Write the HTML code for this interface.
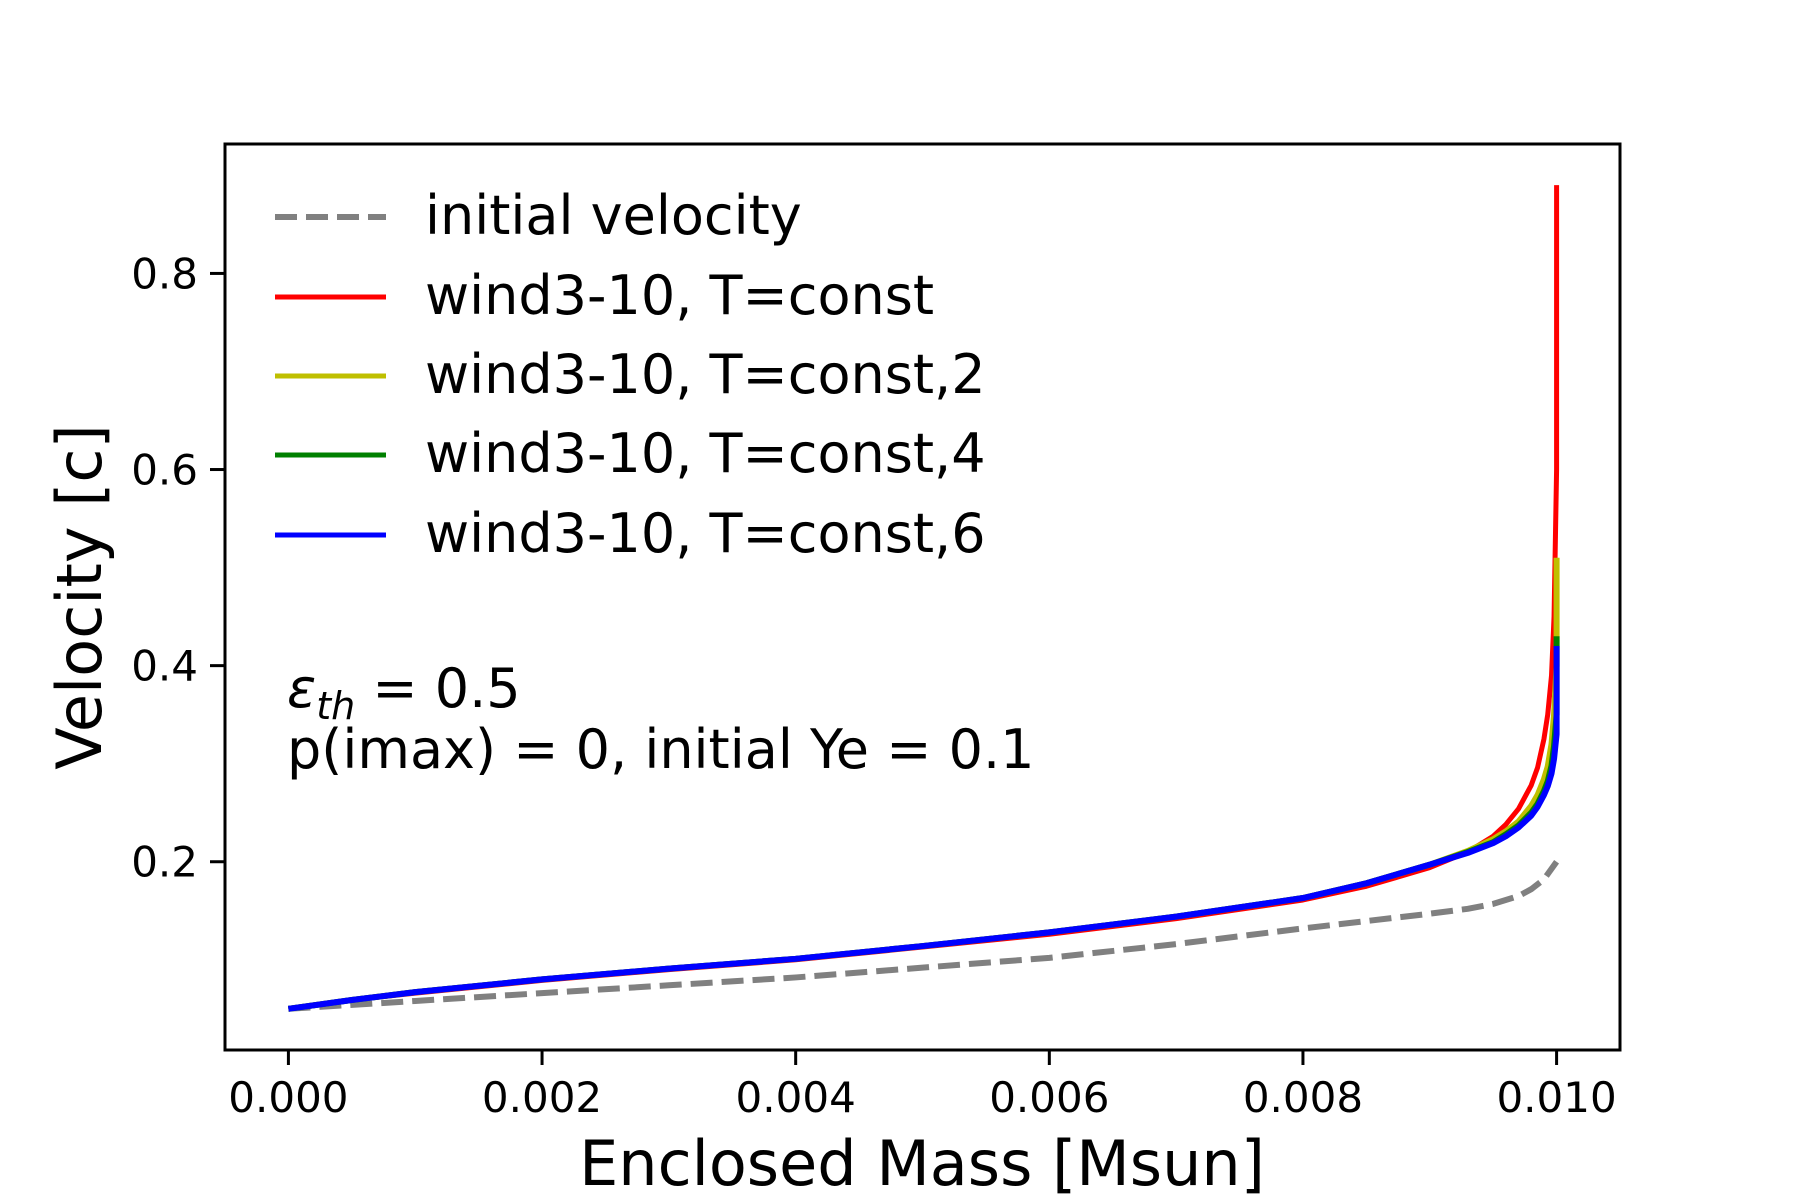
<!DOCTYPE html>
<html><head><meta charset="utf-8"><style>
body{margin:0;background:#fff}
svg{display:block;font-family:"DejaVu Sans","Liberation Sans",sans-serif}
</style></head><body>
<svg id="chart" width="1800" height="1200" viewBox="0 0 1800 1200" xmlns="http://www.w3.org/2000/svg">
<rect width="1800" height="1200" fill="#fff"/>
<g id="ticks"></g>
<g id="series"></g>
<rect x="225" y="144" width="1395" height="906" fill="none" stroke="#000" stroke-width="3"/>
<text x="922" y="1185" font-size="62" text-anchor="middle">Enclosed Mass [Msun]</text>
<text transform="translate(101,597) rotate(-90)" font-size="62" text-anchor="middle">Velocity [c]</text>
<g font-size="54">
<line x1="275" y1="217" x2="386" y2="217" stroke="#808080" stroke-width="6" stroke-dasharray="22,9"/>
<text x="425" y="234">initial velocity</text>
<line x1="275" y1="297" x2="386" y2="297" stroke="#ff0000" stroke-width="5"/>
<text x="425" y="314">wind3-10, T=const</text>
<line x1="275" y1="376" x2="386" y2="376" stroke="#bfbf00" stroke-width="5"/>
<text x="425" y="393">wind3-10, T=const,2</text>
<line x1="275" y1="455" x2="386" y2="455" stroke="#008000" stroke-width="5"/>
<text x="425" y="472">wind3-10, T=const,4</text>
<line x1="275" y1="535" x2="386" y2="535" stroke="#0000ff" stroke-width="5"/>
<text x="425" y="552">wind3-10, T=const,6</text>
</g>
<g font-size="54">
<text x="287" y="707"><tspan font-style="italic">ε</tspan><tspan font-style="italic" font-size="38" dy="12">th</tspan><tspan dy="-12"> = 0.5</tspan></text>
<text x="287" y="768">p(imax) = 0, initial Ye = 0.1</text>
</g>
</svg>
<script>
const xTicks=[0,0.002,0.004,0.006,0.008,0.010];
const xTickLabels=["0.000","0.002","0.004","0.006","0.008","0.010"];
const yTicks=[0.2,0.4,0.6,0.8];
const yTickLabels=["0.2","0.4","0.6","0.8"];
const massInit=[0,0.001,0.002,0.003,0.004,0.005,0.006,0.007,0.008,0.009,0.0093,0.0095,0.0097,0.0098,0.0099,0.01];
const velInit=[0.05,0.058,0.066,0.074,0.082,0.092,0.102,0.116,0.132,0.147,0.152,0.157,0.165,0.172,0.182,0.2];
const massWind=[0,0.0005,0.001,0.002,0.003,0.004,0.005,0.006,0.007,0.008,0.0085,0.009,0.0093,0.0095,0.0096,0.0097,0.0098,0.00985,0.0099,0.00993,0.00996,0.00998,0.01,0.01];
const velRed=[0.05,0.059,0.066,0.079,0.09,0.1,0.113,0.126,0.142,0.161,0.175,0.194,0.21,0.226,0.238,0.254,0.278,0.296,0.325,0.35,0.39,0.45,0.6,0.89];
const velYellow=[0.05,0.059,0.067,0.08,0.091,0.101,0.114,0.128,0.144,0.163,0.178,0.197,0.211,0.223,0.231,0.241,0.257,0.268,0.284,0.297,0.32,0.35,0.4,0.51];
const velGreen=[0.05,0.059,0.067,0.08,0.091,0.101,0.114,0.128,0.144,0.163,0.178,0.197,0.21,0.22,0.228,0.237,0.25,0.259,0.272,0.282,0.298,0.318,0.35,0.43];
const velBlue=[0.05,0.059,0.067,0.08,0.091,0.101,0.114,0.128,0.144,0.163,0.178,0.197,0.209,0.219,0.226,0.235,0.247,0.256,0.268,0.277,0.29,0.305,0.33,0.42];
const X0=225,X1=1620,Y0=144,Y1=1050,xmin=-0.0005,xmax=0.0105,ymin=0.008,ymax=0.932;
const sx=v=>X0+(v-xmin)/(xmax-xmin)*(X1-X0);
const sy=v=>Y1-(v-ymin)/(ymax-ymin)*(Y1-Y0);
const NS="http://www.w3.org/2000/svg";
const tg=document.getElementById('ticks'),sg=document.getElementById('series');
function mk(tag,attrs,parent){const e=document.createElementNS(NS,tag);for(const k in attrs)e.setAttribute(k,attrs[k]);parent.appendChild(e);return e;}
xTicks.forEach((v,i)=>{
 const l=mk('line',{x1:sx(v),x2:sx(v),y1:Y1,y2:Y1+15,stroke:'#000','stroke-width':3},tg);
 
 
 const t=mk('text',{x:sx(v),y:Y1+62,'font-size':42,'text-anchor':'middle'},tg);
 t.textContent=xTickLabels[i];
 
 
});
yTicks.forEach((v,i)=>{
 const l=mk('line',{x1:X0-15,x2:X0,y1:sy(v),y2:sy(v),stroke:'#000','stroke-width':3},tg);
 
 
 const t=mk('text',{x:X0-27,y:sy(v)+15,'font-size':42,'text-anchor':'end'},tg);
 t.textContent=yTickLabels[i];
 
 
});
function line(xs,ys,color,w,dash,name){
 const p=mk('polyline',{points:xs.map((x,i)=>sx(x)+','+sy(ys[i])).join(' '),fill:'none',stroke:color,'stroke-width':w,'stroke-linejoin':'round'},sg);
 if(dash)p.setAttribute('stroke-dasharray',dash);
 
 
}
line(massInit,velInit,'#808080',6,'22,9','series-initial-velocity');
line(massWind,velRed,'#ff0000',5,null,'series-red');
line(massWind,velYellow,'#bfbf00',6,null,'series-yellow');
line(massWind,velGreen,'#008000',6,null,'series-green');
line(massWind,velBlue,'#0000ff',6,null,'series-blue');
</script>
</body></html>
